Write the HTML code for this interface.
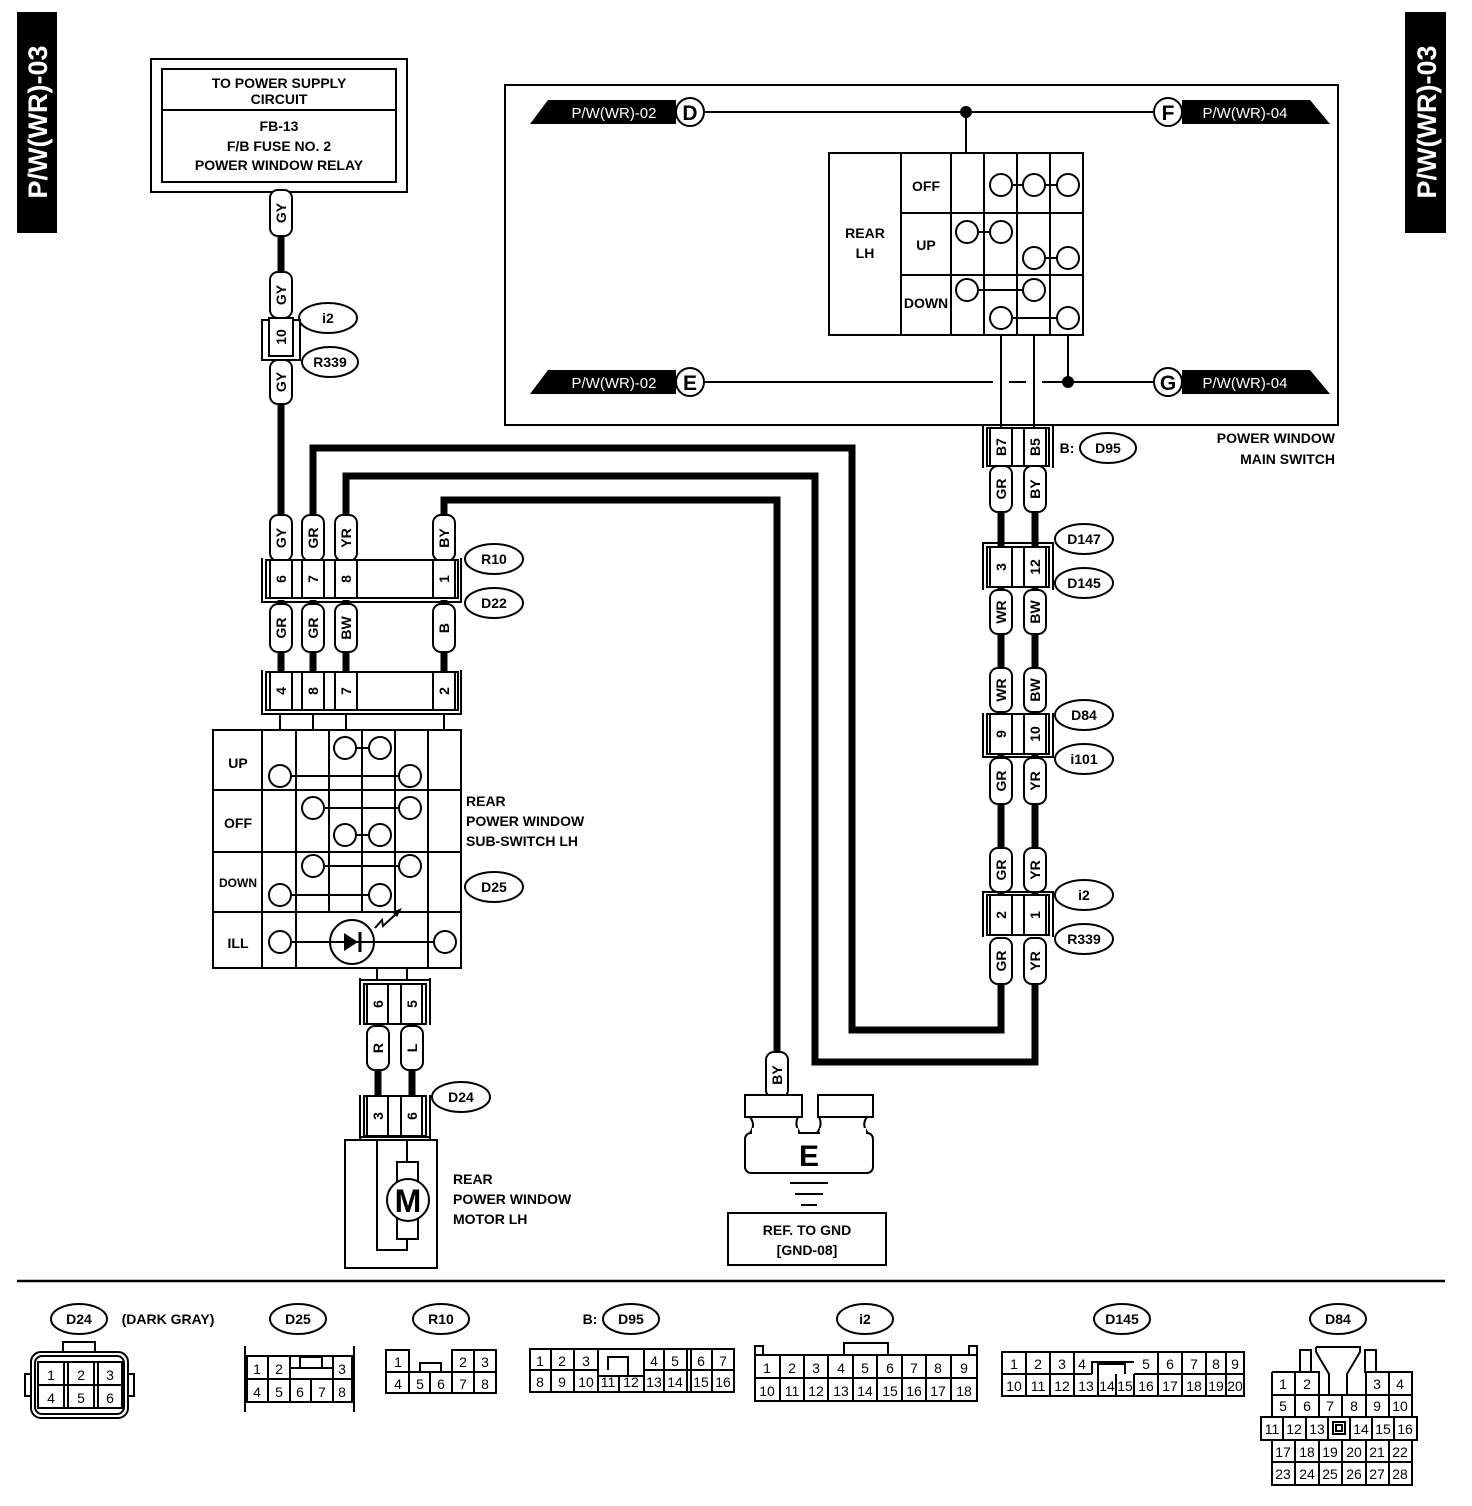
<!DOCTYPE html>
<html><head><meta charset="utf-8"><style>
html,body{margin:0;padding:0;background:#fff;}
svg{display:block;font-family:"Liberation Sans",sans-serif;font-weight:bold;}
.t{font-size:14px;text-anchor:middle;}
.s{fill:#fff;stroke:#000;stroke-width:2;}
.n{fill:none;stroke:#000;stroke-width:2;}
.w{fill:none;stroke:#000;stroke-width:7;}
.c{fill:#fff;stroke:#000;stroke-width:2;}
.p{font-size:14px;text-anchor:middle;font-weight:normal;}
</style></head><body>
<svg width="1472" height="1506" viewBox="0 0 1472 1506" xmlns="http://www.w3.org/2000/svg">
<!-- side tabs -->
<rect x="17" y="12" width="40" height="221" fill="#000"/>
<text transform="translate(47,122) rotate(-90)" fill="#fff" font-size="27" text-anchor="middle">P/W(WR)-03</text>
<rect x="1405" y="12" width="41" height="221" fill="#000"/>
<text transform="translate(1436,122) rotate(-90)" fill="#fff" font-size="27" text-anchor="middle">P/W(WR)-03</text>

<!-- power supply box -->
<rect x="151" y="59" width="256" height="133" class="n" stroke-width="3"/>
<rect x="162" y="69" width="234" height="113" class="n"/>
<line x1="162" y1="110" x2="396" y2="110" class="n"/>
<text x="279" y="88" class="t">TO POWER SUPPLY</text>
<text x="279" y="104" class="t">CIRCUIT</text>
<text x="279" y="131" class="t">FB-13</text>
<text x="279" y="151" class="t">F/B FUSE NO. 2</text>
<text x="279" y="170" class="t">POWER WINDOW RELAY</text>

<!-- thick wires -->
<path d="M281 192 V560" class="w"/>
<path d="M313 520 V448 H852 V1030 H1001 V985" class="w"/>
<path d="M346 520 V476 H815 V1062 H1035 V985" class="w"/>
<path d="M444 520 V500 H777 V1060" class="w"/>
<path d="M281 600 V672 M313 600 V672 M346 600 V672 M444 600 V672" class="w"/>
<path d="M378 1025 V1095 M412 1025 V1095" class="w"/>
<path d="M1001 466 V912 M1035 466 V912" class="w"/>

<!-- upper left i2/R339 connector -->
<rect x="262" y="320" width="38" height="40" class="c"/>
<rect x="269" y="318" width="24" height="38" class="c"/>
<text transform="translate(281,337) rotate(-90)" class="t" dy="5">10</text>

<!-- wire tags -->
<g class="t">
<g><rect x="270" y="190" width="22" height="46" rx="8" class="s"/><text transform="translate(281,213) rotate(-90)" dy="5">GY</text></g>
<g><rect x="270" y="272" width="22" height="46" rx="8" class="s"/><text transform="translate(281,295) rotate(-90)" dy="5">GY</text></g>
<g><rect x="270" y="360" width="22" height="44" rx="8" class="s"/><text transform="translate(281,382) rotate(-90)" dy="5">GY</text></g>
<g><rect x="270" y="515" width="22" height="46" rx="8" class="s"/><text transform="translate(281,538) rotate(-90)" dy="5">GY</text></g>
<g><rect x="302" y="515" width="22" height="46" rx="8" class="s"/><text transform="translate(313,538) rotate(-90)" dy="5">GR</text></g>
<g><rect x="335" y="515" width="22" height="46" rx="8" class="s"/><text transform="translate(346,538) rotate(-90)" dy="5">YR</text></g>
<g><rect x="433" y="515" width="22" height="46" rx="8" class="s"/><text transform="translate(444,538) rotate(-90)" dy="5">BY</text></g>
<g><rect x="270" y="604" width="22" height="48" rx="8" class="s"/><text transform="translate(281,628) rotate(-90)" dy="5">GR</text></g>
<g><rect x="302" y="604" width="22" height="48" rx="8" class="s"/><text transform="translate(313,628) rotate(-90)" dy="5">GR</text></g>
<g><rect x="335" y="604" width="22" height="48" rx="8" class="s"/><text transform="translate(346,628) rotate(-90)" dy="5">BW</text></g>
<g><rect x="433" y="604" width="22" height="48" rx="8" class="s"/><text transform="translate(444,628) rotate(-90)" dy="5">B</text></g>
<g><rect x="367" y="1026" width="22" height="44" rx="8" class="s"/><text transform="translate(378,1048) rotate(-90)" dy="5">R</text></g>
<g><rect x="401" y="1026" width="22" height="44" rx="8" class="s"/><text transform="translate(412,1048) rotate(-90)" dy="5">L</text></g>
<g><rect x="766" y="1052" width="22" height="46" rx="8" class="s"/><text transform="translate(777,1075) rotate(-90)" dy="5">BY</text></g>
<g><rect x="990" y="466" width="22" height="46" rx="8" class="s"/><text transform="translate(1001,489) rotate(-90)" dy="5">GR</text></g>
<g><rect x="1024" y="466" width="22" height="46" rx="8" class="s"/><text transform="translate(1035,489) rotate(-90)" dy="5">BY</text></g>
<g><rect x="990" y="590" width="22" height="44" rx="8" class="s"/><text transform="translate(1001,612) rotate(-90)" dy="5">WR</text></g>
<g><rect x="1024" y="590" width="22" height="44" rx="8" class="s"/><text transform="translate(1035,612) rotate(-90)" dy="5">BW</text></g>
<g><rect x="990" y="668" width="22" height="44" rx="8" class="s"/><text transform="translate(1001,690) rotate(-90)" dy="5">WR</text></g>
<g><rect x="1024" y="668" width="22" height="44" rx="8" class="s"/><text transform="translate(1035,690) rotate(-90)" dy="5">BW</text></g>
<g><rect x="990" y="758" width="22" height="46" rx="8" class="s"/><text transform="translate(1001,781) rotate(-90)" dy="5">GR</text></g>
<g><rect x="1024" y="758" width="22" height="46" rx="8" class="s"/><text transform="translate(1035,781) rotate(-90)" dy="5">YR</text></g>
<g><rect x="990" y="848" width="22" height="44" rx="8" class="s"/><text transform="translate(1001,870) rotate(-90)" dy="5">GR</text></g>
<g><rect x="1024" y="848" width="22" height="44" rx="8" class="s"/><text transform="translate(1035,870) rotate(-90)" dy="5">YR</text></g>
<g><rect x="990" y="938" width="22" height="46" rx="8" class="s"/><text transform="translate(1001,961) rotate(-90)" dy="5">GR</text></g>
<g><rect x="1024" y="938" width="22" height="46" rx="8" class="s"/><text transform="translate(1035,961) rotate(-90)" dy="5">YR</text></g>
</g>

<!-- R10/D22 connector -->
<path d="M262 558 V602 H461 V558" class="n"/>
<rect x="266" y="560" width="192" height="38" class="c"/>
<g class="n"><rect x="270" y="560" width="22" height="38"/><rect x="302" y="560" width="22" height="38"/><rect x="335" y="560" width="22" height="38"/><rect x="433" y="560" width="22" height="38"/></g>
<g class="t"><text transform="translate(281,579) rotate(-90)" dy="5">6</text><text transform="translate(313,579) rotate(-90)" dy="5">7</text><text transform="translate(346,579) rotate(-90)" dy="5">8</text><text transform="translate(444,579) rotate(-90)" dy="5">1</text></g>

<!-- connector 4 8 7 2 -->
<path d="M262 670 V714 H461 V670" class="n"/>
<rect x="266" y="672" width="192" height="38" class="c"/>
<g class="n"><rect x="270" y="672" width="22" height="38"/><rect x="302" y="672" width="22" height="38"/><rect x="335" y="672" width="22" height="38"/><rect x="433" y="672" width="22" height="38"/></g>
<g class="t"><text transform="translate(281,691) rotate(-90)" dy="5">4</text><text transform="translate(313,691) rotate(-90)" dy="5">8</text><text transform="translate(346,691) rotate(-90)" dy="5">7</text><text transform="translate(444,691) rotate(-90)" dy="5">2</text></g>
<path d="M280 714 V730 M313 714 V730 M346 714 V730 M444 714 V730" class="n"/>

<!-- sub switch -->
<rect x="213" y="730" width="248" height="238" class="n" stroke-width="3"/>
<path d="M213 790 H461 M213 852 H461 M213 912 H461 M262 730 V968 M296 730 V912 M329 730 V912 M362 730 V912 M395 730 V912 M428 730 V912 M296 912 V968 M428 912 V968" class="n"/>
<g class="t"><text x="238" y="768">UP</text><text x="238" y="828">OFF</text><text x="238" y="887" font-size="12">DOWN</text><text x="238" y="948">ILL</text></g>
<path d="M345 748 H380 M280 776 H410 M313 808 H410 M345 835 H380 M313 866 H410 M280 895 H380 M280 942 H445" class="n"/>
<g class="c"><circle cx="345" cy="748" r="11"/><circle cx="380" cy="748" r="11"/><circle cx="280" cy="776" r="11"/><circle cx="410" cy="776" r="11"/><circle cx="313" cy="808" r="11"/><circle cx="410" cy="808" r="11"/><circle cx="345" cy="835" r="11"/><circle cx="380" cy="835" r="11"/><circle cx="313" cy="866" r="11"/><circle cx="410" cy="866" r="11"/><circle cx="280" cy="895" r="11"/><circle cx="380" cy="895" r="11"/><circle cx="280" cy="942" r="11"/><circle cx="445" cy="942" r="11"/></g>
<circle cx="352" cy="942" r="22" class="c"/>
<line x1="330" y1="942" x2="374" y2="942" class="n"/>
<polygon points="344,933 344,951 358,942" fill="#000"/><line x1="360" y1="932" x2="360" y2="952" stroke="#000" stroke-width="3"/>
<path d="M375 928 L382 920 L383 926 L396 914" class="n"/><polygon points="402,908 392,912 397,917" fill="#000"/>
<text x="466" y="806" class="t" style="text-anchor:start">REAR</text>
<text x="466" y="826" class="t" style="text-anchor:start">POWER WINDOW</text>
<text x="466" y="846" class="t" style="text-anchor:start">SUB-SWITCH LH</text>

<!-- connector 6 5 -->
<path d="M377 968 V980 M407 968 V980" class="n"/>
<path d="M360 978 V1025 M430 978 V1025 M360 980 H430" class="n"/>
<rect x="364" y="984" width="62" height="40" class="c"/>
<rect x="367" y="984" width="21" height="40" class="n"/><rect x="401" y="984" width="21" height="40" class="n"/>
<g class="t"><text transform="translate(378,1004) rotate(-90)" dy="5">6</text><text transform="translate(412,1004) rotate(-90)" dy="5">5</text></g>

<!-- D24 connector 3 6 -->
<path d="M360 1095 V1140 M430 1095 V1140 M360 1137 H430" class="n"/>
<rect x="364" y="1096" width="62" height="40" class="c"/>
<rect x="367" y="1096" width="21" height="40" class="n"/><rect x="401" y="1096" width="21" height="40" class="n"/>
<g class="t"><text transform="translate(378,1116) rotate(-90)" dy="5">3</text><text transform="translate(412,1116) rotate(-90)" dy="5">6</text></g>

<!-- motor -->
<rect x="345" y="1140" width="92" height="128" class="n"/>
<path d="M377 1140 V1250 H407 V1238 M407 1140 V1162" class="n"/>
<rect x="397" y="1162" width="21" height="21" class="c"/><rect x="397" y="1218" width="21" height="21" class="c"/>
<circle cx="408" cy="1200" r="21" class="c"/>
<text x="408" y="1212" font-size="32" text-anchor="middle">M</text>
<text x="453" y="1184" class="t" style="text-anchor:start">REAR</text>
<text x="453" y="1204" class="t" style="text-anchor:start">POWER WINDOW</text>
<text x="453" y="1224" class="t" style="text-anchor:start">MOTOR LH</text>

<!-- ground -->
<rect x="745" y="1095" width="57" height="22" class="c"/>
<rect x="818" y="1095" width="55" height="22" class="c"/>
<path d="M750 1117 Q756 1125 750 1133 M798 1117 Q794 1125 800 1133 H817 Q823 1125 819 1117 M867 1117 Q861 1125 868 1133" class="n"/>
<rect x="745" y="1133" width="128" height="40" rx="6" class="n"/>
<rect x="752" y="1128" width="46" height="8" fill="#fff"/><rect x="820" y="1128" width="46" height="8" fill="#fff"/>
<text x="809" y="1166" font-size="30" text-anchor="middle">E</text>
<path d="M790 1183 H828 M795 1194 H823 M801 1205 H817" class="n"/>
<rect x="728" y="1213" width="158" height="52" class="n"/>
<text x="807" y="1235" class="t">REF. TO GND</text>
<text x="807" y="1255" class="t">[GND-08]</text>

<!-- main switch box -->
<rect x="505" y="85" width="833" height="340" class="n" stroke-width="3"/>
<polygon points="530,124 548,100 676,100 676,124" fill="#000"/>
<text x="614" y="118" fill="#fff" font-size="15" font-weight="normal" text-anchor="middle">P/W(WR)-02</text>
<polygon points="1182,100 1310,100 1330,124 1182,124" fill="#000"/>
<text x="1245" y="118" fill="#fff" font-size="15" font-weight="normal" text-anchor="middle">P/W(WR)-04</text>
<polygon points="530,394 548,370 676,370 676,394" fill="#000"/>
<text x="614" y="388" fill="#fff" font-size="15" font-weight="normal" text-anchor="middle">P/W(WR)-02</text>
<polygon points="1182,370 1310,370 1330,394 1182,394" fill="#000"/>
<text x="1245" y="388" fill="#fff" font-size="15" font-weight="normal" text-anchor="middle">P/W(WR)-04</text>
<path d="M704 112 H1154 M966 112 V153 M704 382 H993 M1009 382 H1026 M1042 382 H1154" class="n"/>
<circle cx="966" cy="112" r="6" fill="#000"/><circle cx="1068" cy="382" r="6" fill="#000"/>
<g class="c" stroke-width="2.5"><circle cx="690" cy="112" r="14"/><circle cx="1168" cy="112" r="14"/><circle cx="690" cy="382" r="14"/><circle cx="1168" cy="382" r="14"/></g>
<g font-size="21" text-anchor="middle"><text x="690" y="120">D</text><text x="1168" y="120">F</text><text x="690" y="390">E</text><text x="1168" y="390">G</text></g>

<rect x="829" y="153" width="254" height="182" class="n" stroke-width="3"/>
<path d="M901 153 V335 M951 153 V335 M984 153 V335 M1017 153 V335 M1050 153 V335 M901 213 H1083 M901 275 H1083" class="n"/>
<text x="865" y="238" class="t" font-size="15">REAR</text><text x="865" y="258" class="t" font-size="15">LH</text>
<text x="926" y="191" class="t">OFF</text><text x="926" y="250" class="t">UP</text><text x="926" y="308" class="t" font-size="12">DOWN</text>
<path d="M1001 185 H1068 M967 232 H1001 M1034 258 H1068 M967 290 H1034 M1001 318 H1068 M1001 335 V428 M1034 335 V428 M1068 335 V382" class="n"/>
<g class="c"><circle cx="1001" cy="185" r="11"/><circle cx="1034" cy="185" r="11"/><circle cx="1068" cy="185" r="11"/><circle cx="967" cy="232" r="11"/><circle cx="1001" cy="232" r="11"/><circle cx="1034" cy="258" r="11"/><circle cx="1068" cy="258" r="11"/><circle cx="967" cy="290" r="11"/><circle cx="1034" cy="290" r="11"/><circle cx="1001" cy="318" r="11"/><circle cx="1068" cy="318" r="11"/></g>
<text x="1335" y="443" class="t" style="text-anchor:end">POWER WINDOW</text>
<text x="1335" y="464" class="t" style="text-anchor:end">MAIN SWITCH</text>

<!-- right column connectors -->
<g>
<path d="M983 426 V468 M1053 426 V468" class="n"/>
<rect x="987" y="428" width="62" height="38" class="c"/>
<rect x="990" y="428" width="22" height="38" class="n"/><rect x="1024" y="428" width="22" height="38" class="n"/>
<g class="t"><text transform="translate(1001,447) rotate(-90)" dy="5">B7</text><text transform="translate(1035,447) rotate(-90)" dy="5">B5</text></g>

<path d="M983 590 V543 H1053 V590" class="n"/>
<rect x="987" y="547" width="62" height="40" class="c"/>
<rect x="990" y="547" width="22" height="40" class="n"/><rect x="1024" y="547" width="22" height="40" class="n"/>
<g class="t"><text transform="translate(1001,567) rotate(-90)" dy="5">3</text><text transform="translate(1035,567) rotate(-90)" dy="5">12</text></g>

<path d="M983 713 V757 H1053 V713" class="n"/>
<rect x="987" y="714" width="62" height="40" class="c"/>
<rect x="990" y="714" width="22" height="40" class="n"/><rect x="1024" y="714" width="22" height="40" class="n"/>
<g class="t"><text transform="translate(1001,734) rotate(-90)" dy="5">9</text><text transform="translate(1035,734) rotate(-90)" dy="5">10</text></g>

<path d="M983 937 V892 H1053 V937" class="n"/>
<rect x="987" y="895" width="62" height="40" class="c"/>
<rect x="990" y="895" width="22" height="40" class="n"/><rect x="1024" y="895" width="22" height="40" class="n"/>
<g class="t"><text transform="translate(1001,915) rotate(-90)" dy="5">2</text><text transform="translate(1035,915) rotate(-90)" dy="5">1</text></g>
</g>

<!-- ellipse labels -->
<g class="n">
<ellipse cx="328" cy="318" rx="29" ry="15"/><ellipse cx="330" cy="362" rx="28" ry="15"/>
<ellipse cx="494" cy="559" rx="29" ry="15"/><ellipse cx="494" cy="603" rx="29" ry="15"/>
<ellipse cx="494" cy="887" rx="29" ry="15"/><ellipse cx="461" cy="1097" rx="29" ry="15"/>
<ellipse cx="1108" cy="448" rx="28" ry="15"/><ellipse cx="1084" cy="539" rx="29" ry="15"/>
<ellipse cx="1084" cy="583" rx="29" ry="15"/><ellipse cx="1084" cy="715" rx="29" ry="15"/>
<ellipse cx="1084" cy="759" rx="29" ry="15"/><ellipse cx="1084" cy="895" rx="29" ry="15"/>
<ellipse cx="1084" cy="939" rx="29" ry="15"/>
</g>
<g class="t">
<text x="328" y="323">i2</text><text x="330" y="367">R339</text>
<text x="494" y="564">R10</text><text x="494" y="608">D22</text>
<text x="494" y="892">D25</text><text x="461" y="1102">D24</text>
<text x="1108" y="453">D95</text><text x="1067" y="453">B:</text>
<text x="1084" y="544">D147</text><text x="1084" y="588">D145</text>
<text x="1084" y="720">D84</text><text x="1084" y="764">i101</text>
<text x="1084" y="900">i2</text><text x="1084" y="944">R339</text>
</g>

<!-- separator -->
<line x1="17" y1="1281" x2="1445" y2="1281" stroke="#000" stroke-width="2.5"/>

<!-- bottom connector labels -->
<g class="n">
<ellipse cx="79" cy="1319" rx="28" ry="15"/><ellipse cx="298" cy="1319" rx="28" ry="15"/>
<ellipse cx="441" cy="1319" rx="28" ry="15"/><ellipse cx="631" cy="1319" rx="28" ry="15"/>
<ellipse cx="865" cy="1319" rx="28" ry="15"/><ellipse cx="1122" cy="1319" rx="28" ry="15"/>
<ellipse cx="1338" cy="1319" rx="28" ry="15"/>
</g>
<g class="t">
<text x="79" y="1324">D24</text><text x="168" y="1324">(DARK GRAY)</text>
<text x="298" y="1324">D25</text><text x="441" y="1324">R10</text>
<text x="590" y="1324">B:</text><text x="631" y="1324">D95</text>
<text x="865" y="1324">i2</text><text x="1122" y="1324">D145</text><text x="1338" y="1324">D84</text>
</g>

<!-- D24 connector -->
<rect x="31" y="1352" width="97" height="66" rx="10" class="n"/>
<rect x="35" y="1356" width="89" height="58" rx="7" class="n"/>
<path d="M31 1374 H25 V1396 H31 M128 1374 H134 V1396 H128 M63 1352 V1342 H95 V1352" class="n"/>
<rect x="38" y="1362" width="84" height="46" class="n"/>
<path d="M38 1385 H122 M64 1362 V1408 M68 1362 V1408 M94 1362 V1408 M98 1362 V1408" class="n"/>
<g class="p"><text x="51" y="1380">1</text><text x="81" y="1380">2</text><text x="110" y="1380">3</text><text x="51" y="1403">4</text><text x="81" y="1403">5</text><text x="110" y="1403">6</text></g>

<!-- D25 -->
<path d="M245 1346 V1412 M354 1346 V1412" class="n" stroke-width="3"/>
<rect x="247" y="1356" width="105" height="46" class="n"/>
<path d="M247 1379 H352 M268 1356 V1402 M290 1356 V1402 M311 1379 V1402 M333 1356 V1402 M290 1368 H333 M300 1368 V1357 H322 V1368" class="n"/>
<g class="p"><text x="257" y="1374">1</text><text x="279" y="1374">2</text><text x="342" y="1374">3</text><text x="257" y="1397">4</text><text x="279" y="1397">5</text><text x="300" y="1397">6</text><text x="322" y="1397">7</text><text x="342" y="1397">8</text></g>

<!-- R10 -->
<g class="n">
<rect x="386" y="1350" width="23" height="22"/>
<rect x="452" y="1350" width="44" height="22"/><line x1="474" y1="1350" x2="474" y2="1372"/>
<rect x="386" y="1372" width="110" height="21"/>
<path d="M409 1372 V1393 M430 1372 V1393 M452 1372 V1393 M474 1372 V1393 M420 1372 V1363 H441 V1372"/>
</g>
<g class="p"><text x="398" y="1367">1</text><text x="463" y="1367">2</text><text x="485" y="1367">3</text><text x="398" y="1389">4</text><text x="420" y="1389">5</text><text x="441" y="1389">6</text><text x="463" y="1389">7</text><text x="485" y="1389">8</text></g>

<!-- D95 -->
<rect x="530" y="1349" width="204" height="43" class="n"/>
<path d="M530 1370 H598 M644 1370 H734 M598 1376 H644 M551 1349 V1392 M574 1349 V1392 M598 1349 V1392 M644 1349 V1392 M664 1349 V1392 M687 1349 V1392 M691 1349 V1392 M712 1349 V1392 M619 1376 V1392 M608 1370 V1357 H628 V1376" class="n"/>
<g class="p" font-size="13"><text x="540" y="1366">1</text><text x="562" y="1366">2</text><text x="586" y="1366">3</text><text x="654" y="1366">4</text><text x="675" y="1366">5</text><text x="701" y="1366">6</text><text x="723" y="1366">7</text>
<text x="540" y="1387">8</text><text x="562" y="1387">9</text><text x="586" y="1387">10</text><text x="608" y="1387">11</text><text x="631" y="1387">12</text><text x="654" y="1387">13</text><text x="675" y="1387">14</text><text x="701" y="1387">15</text><text x="723" y="1387">16</text></g>

<!-- i2 -->
<rect x="755" y="1355" width="222" height="46" class="n"/>
<path d="M755 1378 H977 M780 1355 V1401 M804 1355 V1401 M828 1355 V1401 M853 1355 V1401 M877 1355 V1401 M902 1355 V1401 M926 1355 V1401 M951 1355 V1401 M844 1355 V1343 H888 V1355 M755 1355 V1346 H763 V1355 M969 1355 V1346 H977 V1355" class="n"/>
<g class="p"><text x="767" y="1373">1</text><text x="792" y="1373">2</text><text x="816" y="1373">3</text><text x="841" y="1373">4</text><text x="865" y="1373">5</text><text x="890" y="1373">6</text><text x="914" y="1373">7</text><text x="938" y="1373">8</text><text x="964" y="1373">9</text>
<text x="767" y="1396">10</text><text x="792" y="1396">11</text><text x="816" y="1396">12</text><text x="841" y="1396">13</text><text x="865" y="1396">14</text><text x="890" y="1396">15</text><text x="914" y="1396">16</text><text x="938" y="1396">17</text><text x="964" y="1396">18</text></g>

<!-- D145 -->
<rect x="1002" y="1352" width="242" height="44" class="n"/>
<path d="M1002 1374 H1092 M1134 1374 H1244 M1092 1374 V1362 H1134 M1098 1374 V1364 H1125 V1374 M1026 1352 V1396 M1050 1352 V1396 M1074 1352 V1396 M1098 1374 V1396 M1116 1374 V1396 M1134 1374 V1396 M1158 1352 V1396 M1182 1352 V1396 M1206 1352 V1396 M1226 1352 V1396" class="n"/>
<g class="p"><text x="1014" y="1369">1</text><text x="1038" y="1369">2</text><text x="1062" y="1369">3</text><text x="1082" y="1369">4</text><text x="1146" y="1369">5</text><text x="1170" y="1369">6</text><text x="1194" y="1369">7</text><text x="1216" y="1369">8</text><text x="1235" y="1369">9</text></g>
<g class="p" font-size="13"><text x="1014" y="1391">10</text><text x="1038" y="1391">11</text><text x="1062" y="1391">12</text><text x="1086" y="1391">13</text><text x="1107" y="1391">14</text><text x="1125" y="1391">15</text><text x="1146" y="1391">16</text><text x="1170" y="1391">17</text><text x="1194" y="1391">18</text><text x="1216" y="1391">19</text><text x="1235" y="1391">20</text></g>

<!-- D84 -->
<g class="n">
<rect x="1300" y="1350" width="11" height="22"/><rect x="1365" y="1350" width="11" height="22"/>
<path d="M1316 1347 H1360 V1352 L1347 1374 V1395 M1316 1352 L1329 1374 V1395 M1316 1347 V1352"/>
<path d="M1272 1372 H1319 V1395 M1366 1395 V1372 H1412 V1395 M1295 1372 V1417 M1389 1372 V1417 M1272 1372 V1417 M1412 1372 V1417 M1272 1395 H1412 M1319 1395 V1417 M1342 1395 V1417 M1366 1395 V1417"/>
<rect x="1261" y="1417" width="156" height="23"/>
<path d="M1283 1417 V1440 M1306 1417 V1440 M1328 1417 V1440 M1350 1417 V1440 M1372 1417 V1440 M1394 1417 V1440"/>
<rect x="1272" y="1440" width="140" height="45"/>
<path d="M1272 1462 H1412 M1295 1440 V1485 M1319 1440 V1485 M1342 1440 V1485 M1366 1440 V1485 M1389 1440 V1485"/>
<rect x="1333" y="1422" width="12" height="12"/><rect x="1336" y="1425" width="6" height="6"/>
</g>
<g class="p"><text x="1283" y="1389">1</text><text x="1307" y="1389">2</text><text x="1377" y="1389">3</text><text x="1400" y="1389">4</text>
<text x="1283" y="1411">5</text><text x="1307" y="1411">6</text><text x="1330" y="1411">7</text><text x="1354" y="1411">8</text><text x="1377" y="1411">9</text><text x="1400" y="1411">10</text></g>
<g class="p" font-size="13"><text x="1272" y="1434">11</text><text x="1294" y="1434">12</text><text x="1317" y="1434">13</text><text x="1361" y="1434">14</text><text x="1383" y="1434">15</text><text x="1405" y="1434">16</text>
<text x="1283" y="1457">17</text><text x="1307" y="1457">18</text><text x="1330" y="1457">19</text><text x="1354" y="1457">20</text><text x="1377" y="1457">21</text><text x="1400" y="1457">22</text>
<text x="1283" y="1479">23</text><text x="1307" y="1479">24</text><text x="1330" y="1479">25</text><text x="1354" y="1479">26</text><text x="1377" y="1479">27</text><text x="1400" y="1479">28</text></g>
</svg>
</body></html>
